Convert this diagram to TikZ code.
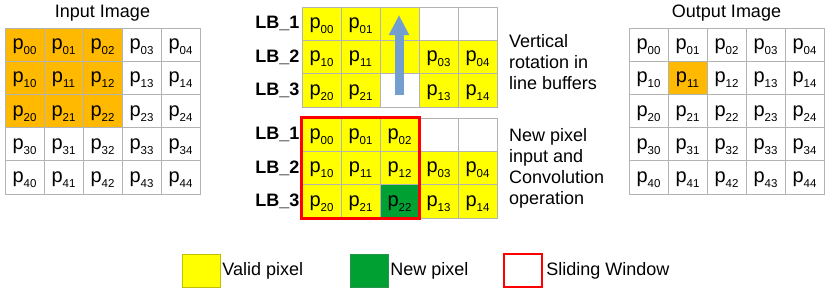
\documentclass[tikz,border=0pt]{standalone}
\usepackage{fontspec}
\setmainfont{Liberation Sans}
\usepackage{xcolor}
\usetikzlibrary{arrows.meta, positioning}

\definecolor{pixorange}{HTML}{FFB900}
\definecolor{pixyellow}{HTML}{FFFF00}
\definecolor{pixgreen}{HTML}{00A033}
\definecolor{gridgray}{HTML}{B3B3B3}
\definecolor{rotblue}{HTML}{729FCF}

% pixel name with subscript index
\newcommand{\pix}[1]{{\fontsize{20}{20}\selectfont p}\raisebox{-5pt}{\fontsize{11.5}{11.5}\selectfont #1}}

\begin{document}
\begin{tikzpicture}[
  x=1pt, y=-1pt,
  cell/.style={
    draw=gridgray, line width=0.7pt,
    minimum width=39pt, minimum height=33.3pt, inner sep=0pt,
    text height=14pt, text depth=4pt
  },
  heading/.style={font=\fontsize{18}{21}\selectfont, inner sep=0pt},
  bufname/.style={font=\fontsize{18}{21}\selectfont\bfseries, inner sep=0pt},
  note/.style={font=\fontsize{18}{21}\selectfont, align=left, inner sep=0pt},
  legbox/.style={minimum width=38pt, minimum height=33pt, inner sep=0pt},
  window/.style={draw=red, line width=2.5pt}
]
  \useasboundingbox (0,0) rectangle (830,295);

  % input image
  \node[heading] (intitle) at (102.5,13) {Input Image};
  \foreach \r in {0,...,4}
    \foreach \c in {0,...,4} {
      \ifnum\r<3 \ifnum\c<3 \def\fc{pixorange}\else\def\fc{white}\fi \else\def\fc{white}\fi
      \node[cell, fill=\fc] (in\r\c) at ({24.5+39*\c}, {44.6+33.2*\r}) {\pix{\r\c}};
    }

  % output image
  \node[heading] (outtitle) at (726.5,13) {Output Image};
  \foreach \r in {0,...,4}
    \foreach \c in {0,...,4} {
      \ifnum\r\c=11 \def\fc{pixorange}\else\def\fc{white}\fi
      \node[cell, fill=\fc] (out\r\c) at ({648.5+39*\c}, {44.6+33.2*\r}) {\pix{\r\c}};
    }

  % line buffers, vertical rotation
  \foreach \r/\c/\txt/\fc in {
    0/0/\pix{00}/pixyellow, 0/1/\pix{01}/pixyellow, 0/2//pixyellow, 0/3//white, 0/4//white,
    1/0/\pix{10}/pixyellow, 1/1/\pix{11}/pixyellow, 1/2//pixyellow, 1/3/\pix{03}/pixyellow, 1/4/\pix{04}/pixyellow,
    2/0/\pix{20}/pixyellow, 2/1/\pix{21}/pixyellow, 2/2//white, 2/3/\pix{13}/pixyellow, 2/4/\pix{14}/pixyellow}
    \node[cell, fill=\fc] (rot\r\c) at ({321.5+39*\c}, {23.65+33.3*\r}) {\txt};

  \node[bufname, left=2pt of rot00] (rotlb1) {LB\_1};
  \node[bufname, left=2pt of rot10] (rotlb2) {LB\_2};
  \node[bufname, left=2pt of rot20] (rotlb3) {LB\_3};

  \coordinate (rotbot) at (399,95);
  \coordinate (rottop) at (399,15);
  \draw[rotblue, line width=9pt, -{Triangle[width=19pt, length=20pt]}] (rotbot) -- (rottop);

  \node[note, anchor=west] (rotnote) at (509,62) {Vertical\\rotation in\\line buffers};

  % line buffers, new pixel and convolution
  \foreach \r/\c/\txt/\fc in {
    0/0/\pix{00}/pixyellow, 0/1/\pix{01}/pixyellow, 0/2/\pix{02}/pixyellow, 0/3//white, 0/4//white,
    1/0/\pix{10}/pixyellow, 1/1/\pix{11}/pixyellow, 1/2/\pix{12}/pixyellow, 1/3/\pix{03}/pixyellow, 1/4/\pix{04}/pixyellow,
    2/0/\pix{20}/pixyellow, 2/1/\pix{21}/pixyellow, 2/2/\pix{22}/pixgreen, 2/3/\pix{13}/pixyellow, 2/4/\pix{14}/pixyellow}
    \node[cell, fill=\fc] (conv\r\c) at ({321.5+39*\c}, {134.65+33.3*\r}) {\txt};

  \node[bufname, left=2pt of conv00] (convlb1) {LB\_1};
  \node[bufname, left=2pt of conv10] (convlb2) {LB\_2};
  \node[bufname, left=2pt of conv20] (convlb3) {LB\_3};

  \draw[window] (conv00.north west) rectangle (conv22.south east);

  \node[note, anchor=west] (convnote) at (509,168) {New pixel\\input and\\Convolution\\operation};

  % legend
  \node[legbox, fill=pixyellow, draw=pixyellow!75!black, line width=0.5pt] (legvalid) at (201,270.5) {};
  \node[heading, right=2pt of legvalid] (legvalidtxt) {Valid pixel};
  \node[legbox, fill=pixgreen, draw=pixgreen!70!gray, line width=0.5pt] (legnew) at (369,270.5) {};
  \node[heading, right=2pt of legnew] (legnewtxt) {New pixel};
  \node[legbox, fill=white, window] (legwin) at (523,270.5) {};
  \node[heading, right=3pt of legwin] (legwintxt) {Sliding Window};
\end{tikzpicture}
\end{document}
